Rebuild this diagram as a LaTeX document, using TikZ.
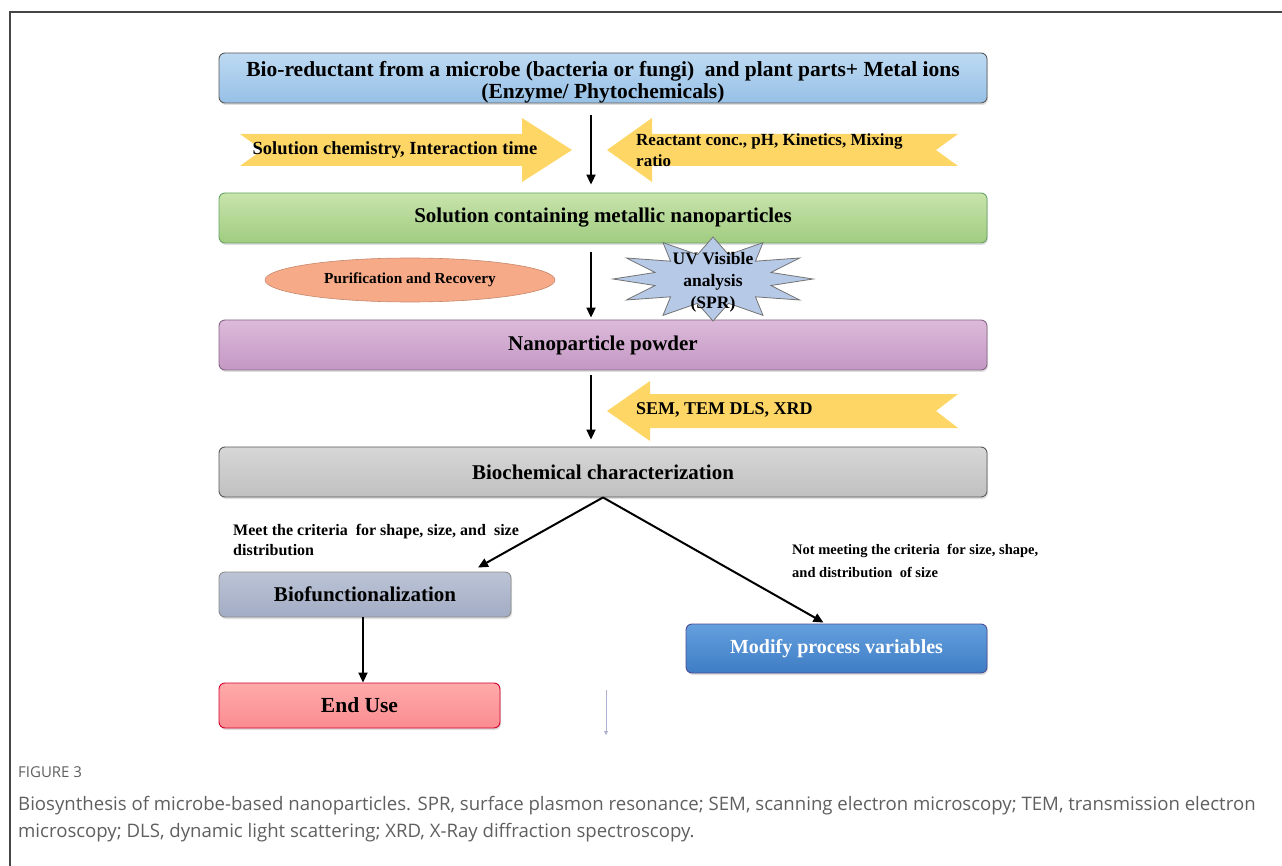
\documentclass[tikz,border=0pt]{standalone}
\usepackage{fontspec}
\setmainfont{Liberation Serif}
\newfontfamily\capfont{Open Sans}
\usetikzlibrary{arrows.meta,shapes.geometric,shadows}
\definecolor{blueT}{RGB}{190,218,242}
\definecolor{blueB}{RGB}{150,192,230}
\definecolor{greenT}{RGB}{200,228,172}
\definecolor{greenB}{RGB}{160,204,128}
\definecolor{purT}{RGB}{220,186,218}
\definecolor{purB}{RGB}{196,152,196}
\definecolor{grayT}{RGB}{215,215,215}
\definecolor{grayB}{RGB}{192,192,192}
\definecolor{bfT}{RGB}{188,196,214}
\definecolor{bfB}{RGB}{162,172,196}
\definecolor{euT}{RGB}{255,170,170}
\definecolor{euB}{RGB}{250,140,145}
\definecolor{mdT}{RGB}{100,160,222}
\definecolor{mdB}{RGB}{62,124,196}
\definecolor{yel}{RGB}{253,214,102}
\definecolor{salmon}{RGB}{246,170,136}
\definecolor{starfill}{RGB}{182,202,232}
\definecolor{capgray}{RGB}{95,95,95}
\definecolor{frame}{RGB}{70,70,70}
\begin{document}
\begin{tikzpicture}[x=1pt,y=-1pt,
  box/.style={draw=black!65, line width=0.9pt, rounded corners=6pt, align=center,
     drop shadow={opacity=0.25, shadow xshift=1pt, shadow yshift=-2pt}},
  bigf/.style={font=\bfseries\fontsize{21}{23}\selectfont},
  arr/.style={-{Triangle[length=10pt,width=9pt]}, line width=2pt},
  yarrow/.style={fill=yel, draw=none},
  lbl/.style={align=left, inner sep=0pt}]
\useasboundingbox (0,0) rectangle (1282,866);
% frame
\draw[frame, line width=1.2pt] (1282,12) -- (10,12) -- (10,866);

% main boxes
\node[box, top color=blueT, bottom color=blueB, minimum width=768pt, minimum height=50pt] (b1) at (603,78) {};
\node[align=center, font=\bfseries\fontsize{21.5}{22}\selectfont] (b1t) at (603,82)
  {Bio-reductant from a microbe (bacteria or fungi)\ \ and plant parts+ Metal ions\\(Enzyme/ Phytochemicals)};
\node[box, top color=greenT, bottom color=greenB, draw=green!40!black!60, minimum width=768pt, minimum height=50pt, bigf] (b2) at (603,218)
  {Solution containing metallic nanoparticles};
\node[box, top color=purT, bottom color=purB, draw=violet!40!black!60, minimum width=768pt, minimum height=50pt, bigf] (b3) at (603,345)
  {Nanoparticle powder};
\node[box, top color=grayT, bottom color=grayB, minimum width=768pt, minimum height=50pt, bigf] (b4) at (603,472)
  {Biochemical characterization};
\node[box, top color=bfT, bottom color=bfB, draw=black!45, minimum width=292pt, minimum height=45pt, bigf] (b5) at (365,594.5)
  {Biofunctionalization};
\node[box, top color=euT, bottom color=euB, draw=purple!70!red, minimum width=281pt, minimum height=45pt, font=\bfseries\fontsize{21.5}{23}\selectfont] (b6) at (359.5,705.5)
  {End Use};
\node[box, top color=mdT, bottom color=mdB, draw=blue!40!black!70, minimum width=301pt, minimum height=49pt, font=\bfseries\fontsize{20}{23}\selectfont, text=white] (b7) at (836.5,648.5)
  {Modify process variables};

% yellow arrows
\fill[yarrow] (240,134) -- (522,134) -- (522,118) -- (572,150) -- (522,182) -- (522,166) -- (240,166) -- (262,150) -- cycle;
\node[font=\bfseries\fontsize{18.5}{21}\selectfont] (y1) at (395,150) {Solution chemistry, Interaction time};
\fill[yarrow] (958,134) -- (652,134) -- (652,118) -- (607,150) -- (652,182) -- (652,166) -- (958,166) -- (936,150) -- cycle;
\node[lbl, font=\bfseries\fontsize{17}{21}\selectfont, anchor=west] (y2) at (636,150) {Reactant conc., pH, Kinetics, Mixing\\ratio};
\fill[yarrow] (958,394) -- (650,394) -- (650,381) -- (607,411) -- (650,441) -- (650,428) -- (958,428) -- (936,411) -- cycle;
\node[lbl, font=\bfseries\fontsize{18}{21}\selectfont, anchor=west] (y3) at (636,410) {SEM, TEM DLS, XRD};

% ellipse
\node[ellipse, fill=salmon, draw=salmon!80!black, line width=0.6pt, minimum width=290pt, minimum height=44pt, font=\bfseries\fontsize{15.3}{20}\selectfont] (el) at (410,280)
  {Purification and Recovery};

% star
\fill[starfill, draw=black!55, line width=0.8pt]
  plot[samples at={0,15,...,345}] ({713+100*(1-0.4*mod(round(\x/15),2))*cos(\x)}, {279+42*(1-0.4*mod(round(\x/15),2))*sin(\x)}) -- cycle;
\node[font=\bfseries\fontsize{17.5}{22}\selectfont, align=center] (st) at (713,282) {UV Visible\\analysis\\(SPR)};

% vertical arrows
\draw[arr, shorten <=12pt, shorten >=8pt] ([xshift=-12pt]b1.south) -- ([xshift=-12pt]b2.north);
\draw[arr, shorten <=9pt, shorten >=2pt] ([xshift=-12pt]b2.south) -- ([xshift=-12pt]b3.north);
\draw[arr, shorten <=5pt, shorten >=7pt] ([xshift=-12pt]b3.south) -- ([xshift=-12pt]b4.north);
\draw[arr] (b4.south) -- ([xshift=113pt,yshift=4pt]b5.north);
\draw[arr] (b4.south) -- ([xshift=-13pt,yshift=1pt]b7.north);
\draw[arr] ([xshift=-2pt]b5.south) -- ([xshift=3.5pt]b6.north);

% faint arrow
\coordinate (f1) at (606,690);
\coordinate (f2) at (606,735);
\draw[-{Triangle[length=4pt,width=4pt]}, line width=0.8pt, color=blue!25!gray!50] (f1) -- (f2);

% labels
\node[lbl, font=\bfseries\fontsize{16}{20}\selectfont, anchor=west] (l1) at (233,540) {Meet the criteria\ \ for shape, size, and\ \ size\\distribution};
\node[lbl, font=\bfseries\fontsize{14.5}{23}\selectfont, anchor=west] (l2) at (792,560.5) {Not meeting the criteria\ \ for size, shape,\\and distribution\ \ of size};

% caption
\node[anchor=west, inner sep=0pt, font=\capfont\fontsize{15}{16}\selectfont, text=capgray] (cap0) at (18,772) {FIGURE 3};
\node[anchor=west, inner sep=0pt, font=\capfont\fontsize{18.6}{27}\selectfont, text=capgray] (cap1) at (18,806)
  {Biosynthesis of microbe-based nanoparticles. SPR, surface plasmon resonance; SEM, scanning electron microscopy; TEM, transmission electron};
\node[anchor=west, inner sep=0pt, font=\capfont\fontsize{18.6}{27}\selectfont, text=capgray] (cap2) at (18,833)
  {microscopy; DLS, dynamic light scattering; XRD, X-Ray diffraction spectroscopy.};
\end{tikzpicture}
\end{document}
